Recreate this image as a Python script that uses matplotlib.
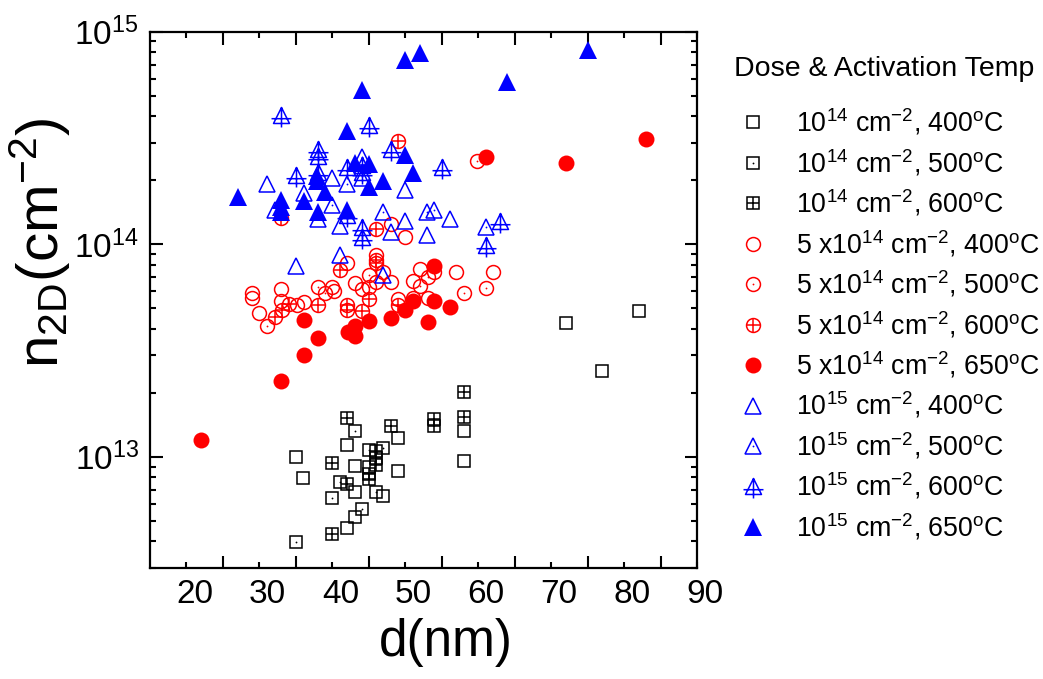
import matplotlib
matplotlib.use("Agg")
import matplotlib.pyplot as plt
from matplotlib.path import Path
from matplotlib.ticker import FixedLocator, NullFormatter, FixedFormatter, LogLocator
from matplotlib.transforms import ScaledTranslation

plt.rcParams['font.family'] = ['Liberation Sans', 'DejaVu Sans']
plt.rcParams['mathtext.default'] = 'regular'

# 1e14 cm-2 dose
d_14_400 = [35.0, 36.0, 42.0, 43.1, 43.1, 43.1, 42.0, 49.0, 49.0, 47.0, 45.0, 58.0, 58.0, 72.0, 77.0, 82.0]
n_14_400 = [1.00e13, 7.96e12, 1.14e13, 9.04e12, 6.84e12, 5.19e12, 4.61e12, 1.23e13, 8.57e12, 6.57e12,
            8.97e12, 1.32e13, 9.58e12, 4.24e13, 2.53e13, 4.86e13]
d_14_500 = [35.0, 40.0, 41.0, 43.1, 44.0, 46.0, 47.0, 45.0]
n_14_500 = [3.98e12, 6.37e12, 7.64e12, 1.32e13, 5.71e12, 6.83e12, 1.10e13, 1.075e13]
d_14_600 = [40.0, 40.0, 42.0, 42.0, 48.0, 54.0, 54.0, 58.0, 58.0, 46.0, 46.0, 46.0, 45.0, 45.0]
n_14_600 = [4.33e12, 9.36e12, 1.52e13, 7.42e12, 1.40e13, 1.50e13, 1.39e13, 1.54e13, 2.02e13, 1.07e13,
            9.91e12, 9.19e12, 8.34e12, 7.85e12]

# 5e14 cm-2 dose
d_5e14_400 = [29.0, 29.0, 30.0, 33.0, 33.0, 35.1, 36.1, 40.0, 40.2, 42.0, 43.1, 44.0, 46.0, 46.0, 46.9,
              48.1, 49.0, 50.0, 48.1, 51.0, 51.0, 52.0, 53.1, 54.0, 57.0, 62.0]
n_5e14_400 = [5.87e13, 5.56e13, 4.76e13, 6.15e13, 5.42e13, 5.19e13, 5.35e13, 6.27e13, 6.00e13, 8.13e13,
              6.59e13, 6.13e13, 8.90e13, 6.66e13, 7.42e13, 6.66e13, 5.54e13, 1.08e14, 1.25e14, 6.71e13,
              5.58e13, 7.62e13, 5.56e13, 7.40e13, 7.38e13, 7.42e13]
d_5e14_500 = [31.0, 38.0, 39.0, 45.0, 45.0, 52.0, 53.1, 58.0, 61.0, 59.9]
n_5e14_500 = [4.14e13, 6.27e13, 5.89e13, 7.16e13, 6.31e13, 6.36e13, 6.99e13, 5.87e13, 6.20e13, 2.46e14]
d_5e14_600 = [32.1, 33.1, 34.1, 38.0, 41.0, 42.0, 42.0, 44.0, 45.0, 46.0, 46.0, 49.0, 49.0, 33.0, 46.0]
n_5e14_600 = [4.56e13, 4.90e13, 5.23e13, 5.19e13, 7.53e13, 5.19e13, 4.89e13, 4.84e13, 5.53e13, 8.43e13,
              8.13e13, 5.18e13, 3.06e14, 1.33e14, 1.175e14]
d_5e14_650 = [22.0, 33.0, 36.1, 36.1, 38.0, 42.1, 43.1, 43.1, 45.0, 48.1, 50.0, 51.0, 53.1, 54.0, 54.0,
              56.1, 61.0, 72.0, 83.0]
n_5e14_650 = [1.195e13, 2.27e13, 3.03e13, 4.40e13, 3.61e13, 3.85e13, 4.12e13, 3.70e13, 4.37e13, 4.48e13,
              4.90e13, 5.43e13, 4.30e13, 5.40e13, 7.92e13, 5.05e13, 2.56e14, 2.41e14, 3.14e14]

# 1e15 cm-2 dose
d_15_400 = [31.0, 36.1, 40.0, 44.0, 50.0, 32.1, 41.0, 48.1, 50.0, 56.1, 53.0, 35.0, 41.0, 47.0]
n_15_400 = [1.93e14, 1.74e14, 2.04e14, 2.04e14, 1.81e14, 1.45e14, 1.22e14, 1.145e14, 1.28e14, 1.31e14,
            1.105e14, 7.90e13, 8.90e13, 7.16e13]
d_15_500 = [42.0, 44.0, 40.0, 38.0, 47.0, 53.0, 54.0, 61.0]
n_15_500 = [1.92e14, 2.58e14, 1.53e14, 1.32e14, 1.42e14, 1.42e14, 1.45e14, 1.21e14]
d_15_600 = [33.0, 45.0, 48.1, 38.0, 38.0, 35.0, 38.0, 42.0, 44.0, 44.0, 55.1, 63.0, 42.0, 44.0, 44.0, 61.0]
n_15_600 = [4.06e14, 3.64e14, 2.80e14, 2.81e14, 2.60e14, 2.12e14, 2.19e14, 2.30e14, 2.36e14, 2.19e14,
            2.32e14, 1.29e14, 1.37e14, 1.21e14, 1.08e14, 9.91e13]
d_15_650 = [52.0, 50.0, 64.0, 75.0, 44.0, 42.0, 50.0, 43.1, 45.0, 51.0, 37.9, 37.9, 47.0, 45.0, 39.05,
            27.1, 33.0, 36.1, 33.0, 33.0, 38.0, 42.0]
n_15_650 = [7.96e14, 7.36e14, 5.80e14, 8.20e14, 5.32e14, 3.42e14, 2.63e14, 2.40e14, 2.38e14, 2.17e14,
            2.09e14, 1.98e14, 1.98e14, 1.86e14, 1.77e14, 1.66e14, 1.61e14, 1.60e14, 1.50e14, 1.42e14,
            1.42e14, 1.45e14]

labels = [r'10$^{14}$ cm$^{-2}$, 400$^{o}$C', r'10$^{14}$ cm$^{-2}$, 500$^{o}$C',
          r'10$^{14}$ cm$^{-2}$, 600$^{o}$C',
          r'5 x10$^{14}$ cm$^{-2}$, 400$^{o}$C', r'5 x10$^{14}$ cm$^{-2}$, 500$^{o}$C',
          r'5 x10$^{14}$ cm$^{-2}$, 600$^{o}$C', r'5 x10$^{14}$ cm$^{-2}$, 650$^{o}$C',
          r'10$^{15}$ cm$^{-2}$, 400$^{o}$C', r'10$^{15}$ cm$^{-2}$, 500$^{o}$C',
          r'10$^{15}$ cm$^{-2}$, 600$^{o}$C', r'10$^{15}$ cm$^{-2}$, 650$^{o}$C']

# triangle with a cross through it (600C, 1e15)
tri_cross = Path([(0, 1), (-1, -1), (1, -1), (0, 1), (0, 1), (0, -1.5), (-1.25, -0.4), (1.25, -0.4)],
                 [Path.MOVETO, Path.LINETO, Path.LINETO, Path.CLOSEPOLY,
                  Path.MOVETO, Path.LINETO, Path.MOVETO, Path.LINETO])

fig = plt.figure(figsize=(10.43, 6.79), dpi=100)
ax = fig.add_axes([0.1438, 0.1635, 0.5245, 0.7898])

BLK, RED, BLU = 'black', '#ff0000', '#0000ff'
SQ, CI, TR = 8, 10, 11.5


def open_pts(x, y, marker, ms, c):
    return ax.plot(x, y, ls='none', marker=marker, ms=ms, mfc='none', mec=c, mew=1.1)[0]


def dot_pts(x, y, c):
    return ax.plot(x, y, ls='none', marker='o', ms=1.3, mfc=c, mec=c, mew=0)[0]


def plus_pts(x, y, ms, c):
    return ax.plot(x, y, ls='none', marker='+', ms=ms, mec=c, mew=1.1)[0]


handles = []
handles.append(open_pts(d_14_400, n_14_400, 's', SQ, BLK))
handles.append((open_pts(d_14_500, n_14_500, 's', SQ, BLK), dot_pts(d_14_500, n_14_500, BLK)))
handles.append((open_pts(d_14_600, n_14_600, 's', SQ, BLK), plus_pts(d_14_600, n_14_600, SQ, BLK)))
handles.append(open_pts(d_5e14_400, n_5e14_400, 'o', CI, RED))
handles.append((open_pts(d_5e14_500, n_5e14_500, 'o', CI, RED), dot_pts(d_5e14_500, n_5e14_500, RED)))
handles.append((open_pts(d_5e14_600, n_5e14_600, 'o', CI, RED), plus_pts(d_5e14_600, n_5e14_600, CI, RED)))
handles.append(ax.plot(d_5e14_650, n_5e14_650, ls='none', marker='o', ms=CI + 1.5, mfc=RED, mec=RED, mew=0)[0])
handles.append(open_pts(d_15_400, n_15_400, '^', TR, BLU))
handles.append((open_pts(d_15_500, n_15_500, '^', TR, BLU), dot_pts(d_15_500, n_15_500, BLU)))
handles.append(open_pts(d_15_600, n_15_600, tri_cross, TR * 1.5, BLU))
handles.append(ax.plot(d_15_650, n_15_650, ls='none', marker='^', ms=TR + 1, mfc=BLU, mec=BLU, mew=0)[0])

ax.set_yscale('log')
ax.set_xlim(15, 90)
ax.set_ylim(3e12, 1e15)

# x axis: long ticks at 25..85, short labelled ticks at 20..90
ax.xaxis.set_major_locator(FixedLocator(list(range(25, 90, 10))))
ax.xaxis.set_major_formatter(NullFormatter())
ax.xaxis.set_minor_locator(FixedLocator(list(range(20, 91, 10))))
ax.xaxis.set_minor_formatter(FixedFormatter([str(v) for v in range(20, 91, 10)]))
ax.yaxis.set_major_locator(LogLocator(base=10, numticks=10))
ax.yaxis.set_minor_locator(LogLocator(base=10, subs=range(2, 10), numticks=20))
ax.yaxis.set_minor_formatter(NullFormatter())

ax.tick_params(which='both', direction='in', top=True, right=True, width=1.5, labelsize=24, pad=8)
ax.tick_params(which='major', length=9)
ax.tick_params(which='minor', length=4.5)
for s in ax.spines.values():
    s.set_linewidth(1.6)

ax.set_xlabel('d(nm)', fontsize=37)
ax.set_ylabel(r'n$_{2D}$(cm$^{-2}$)', fontsize=42)
ax.xaxis.set_label_coords(0.54, -0.093)
ax.yaxis.set_label_coords(-0.14, 0.606)

leg = fig.legend(handles, labels, title='Dose & Activation Temp', loc='upper left',
                 bbox_to_anchor=(734 / 1043, 1 - 56 / 679), frameon=False, fontsize=19.3,
                 title_fontsize=20.5, alignment='left', handlelength=1.42, handletextpad=0.9,
                 labelspacing=0.36, borderpad=0, borderaxespad=0)
leg._legend_box.sep = 18

fig.canvas.draw()
shift = ScaledTranslation(8 / 100, 0, fig.dpi_scale_trans)
for t in ax.xaxis.get_minor_ticks():
    t.label1.set_transform(t.label1.get_transform() + shift)

fig.savefig('out.png', dpi=100)
